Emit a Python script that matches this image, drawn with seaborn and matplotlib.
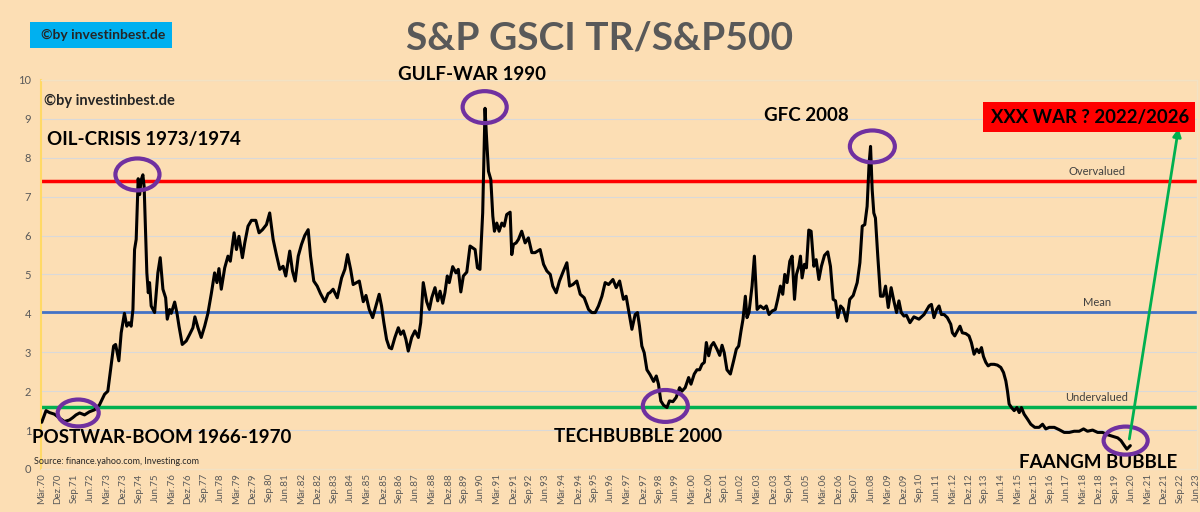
import seaborn as sns
import matplotlib.pyplot as plt
import pandas as pd
from matplotlib.patches import Ellipse, Rectangle

# months after Mär.70 and S&P GSCI TR / S&P500 ratio
months = [0, 2.4, 4.3, 7, 9.8, 12.6, 15.4, 17.2, 19, 21, 23.7, 26.4, 29.2, 32, 34.8, 36.6, 37.9,
          39.8, 40.9, 42.7, 44, 45.8, 47.1, 48.3, 49.5, 50.5, 51.4, 52.3, 53.4, 54.2, 55, 56,
          56.7, 57.5, 58.2, 59, 59.7, 60.6, 62.5, 64.3, 65.6, 67.1, 68.6, 69.5, 70.8, 71.7,
          73.6, 74.9, 76, 77.8, 80, 81.9, 83.7, 84.8, 86.5, 88.3, 90.2, 92, 93.9, 95.7, 97,
          98.1, 99.4, 101.3, 103.1, 104.4, 106.5, 107.8, 109.2, 111.1, 112.4, 114.2, 116.1,
          118.5, 120.3, 122.2, 124.4, 126.2, 128.1, 129.9, 131.8, 133.6, 135.1, 137.3, 138.8,
          140.3, 142, 143.8, 145.6, 147.5, 148.8, 150.6, 152.5, 154.3, 156.7, 158.6,
          159.5, 161.3, 163.6, 166, 167.8, 169.3, 171, 172.4, 174.3, 175.8, 178, 179.5, 181.3,
          183.2, 185, 186.8, 188.1, 189.4, 190.9, 192.4, 193.7, 195.5, 197.4, 198.7, 200.2,
          201.6, 202.9, 204.8, 206.6, 208.5, 209.8, 211.2, 213.1, 214.6, 215.9, 217.7, 219.2,
          220.5, 222, 223.2, 224.5, 225.6, 227.5, 229.3, 230.6, 232, 233.4, 235.3, 237.1,
          238.6, 239.9, 241.2, 242.6, 244.1, 245.4, 246.3, 247.3, 248.6, 249.7, 250.6, 251.9,
          253.2, 254.7, 256, 257.4, 259.3, 260.2, 261.1, 262.6, 263.9, 265.7, 267.6, 269.4,
          271.3, 273.1, 275.9, 277.8, 279.6, 281.5, 282.9, 284.8, 286.6, 288.8, 290.7, 292.2,
          294, 296.2, 298.1, 300.3, 302.7, 304.5, 306.4, 308.2, 310.1, 311.9, 313.8, 316.2,
          318, 319.9,
          322, 323.5, 324.8, 326.7, 328.5, 329.8, 330.9, 332.2, 333.5, 335, 336.8, 338.7,
          340.2, 341.4, 342.7, 344.2, 346.1, 347.5, 349.4, 351.2, 353.1, 354.4, 356.2, 358.1,
          359.4, 361.2, 362.7, 364.2, 365.5, 366.8, 367.9, 369.2, 370.5, 371.9, 373.8, 375.3,
          376.6, 377.8, 379.3, 381.2, 383, 384.5, 385.8, 387.1, 388.2, 389.5, 390.4, 391.5,
          393.2, 394.5, 396, 397.8, 399.7, 401.1, 402.6, 404.3, 406.1, 407.4, 408.9, 410.2,
          411.3, 412.6, 414.1, 415.4, 416.7, 417.8, 419.1, 420, 420.9, 422.2, 423.3, 424.6,
          425.9, 427.4, 428.7, 430.2, 431.6, 433.3, 435.1, 436.6, 438.1, 439.4, 440.7, 442.2,
          443.6, 445.5, 447.3, 449.2, 451.4, 452.9, 454.2, 455.6, 456.9, 458, 458.8, 459.7,
          460.6, 461.5, 462.8, 464.3, 465.8, 467.1, 468.6, 470.2, 471.7, 473.2, 474.5, 475.8,
          477.3, 478.7, 480.6,
          482.8, 485.6, 488.4, 491.2, 492.5, 493.9, 495.4, 496.7, 498, 499.5, 501.3, 503.2,
          504.1, 505.4, 506.9, 508.3, 509.6, 511.5, 513.3, 514.6, 516.1, 517.6, 518.9, 520.2,
          521.3, 522.6, 523.9, 525.3, 527.2, 529, 530.9, 532.4, 533.7, 534.6, 535.5, 536.8,
          538.3, 539.8, 541.1, 542.3, 543.8, 545.7, 547.5, 549.7, 552.1, 554, 555.8, 557.7,
          560.5, 563.2, 566, 568.8, 571.5, 574.3, 576.7, 578.9, 581.7, 584.5, 587.2, 590,
          592.8, 595.6, 597.4, 599.3, 600.7, 602.6]
ratio = [1.20, 1.50, 1.45, 1.41, 1.31, 1.22, 1.26, 1.32, 1.39, 1.44, 1.39, 1.47, 1.52, 1.65, 1.92, 2.0, 2.48,
         3.16, 3.2, 2.78, 3.5, 4.0, 3.67, 3.76, 3.67, 4.1, 5.64, 5.9, 7.46, 7.05, 7.42, 7.56,
         7.26, 6.07, 5.04, 4.53, 4.79, 4.19, 4.02, 5.04, 5.43, 4.62, 4.4, 3.85, 4.1, 4.0,
         4.29, 4.0, 3.67, 3.2, 3.29, 3.46, 3.63, 3.91, 3.63, 3.38, 3.67, 4.0, 4.51, 5.04, 4.79,
         5.15, 4.62, 5.17, 5.47, 5.34, 6.07, 5.64, 5.98, 5.43, 5.81, 6.24, 6.39,
         6.39, 6.07, 6.15, 6.28, 6.58, 5.9, 5.51, 5.13, 5.21, 4.96, 5.6, 5.09,
         4.83, 5.47, 5.77, 6.0, 6.15, 5.47, 4.83, 4.7, 4.51, 4.3, 4.51,
         4.53, 4.62, 4.4, 4.91, 5.13, 5.51, 5.13, 4.74, 4.79, 4.83, 4.3, 4.46, 4.1,
         3.89, 4.19, 4.49, 4.19, 3.76, 3.33, 3.12, 3.09, 3.38, 3.63, 3.46, 3.55,
         3.33, 3.03, 3.38, 3.55, 3.38, 3.76, 4.79, 4.3, 4.1, 4.4, 4.66, 4.32,
         4.57, 4.26, 4.53, 4.96, 4.79, 5.2, 5.04, 5.13, 4.55, 4.96, 5.06, 5.73,
         5.68, 5.64, 5.17, 5.13, 6.58, 9.27, 8.46, 7.65, 7.44, 6.5, 6.11, 6.32,
         6.11, 6.32, 6.24, 6.54, 6.6, 5.51, 5.77, 5.81, 5.9, 6.11, 5.81, 5.94,
         5.56, 5.56, 5.64, 5.26, 5.09, 5.0, 4.7, 4.53, 4.83, 5.09, 5.3, 4.7,
         4.74, 4.83, 4.49, 4.4, 4.1, 4.02, 4.02, 4.19, 4.44, 4.79, 4.74, 4.87,
         4.66, 4.83,
         4.36, 4.44, 4.1, 3.59, 3.97, 4.02, 3.67, 3.16, 2.99, 2.55, 2.42, 2.25,
         2.39, 2.18, 1.75, 1.64, 1.58, 1.75, 1.73, 1.84, 2.09, 2.0, 2.09, 2.35,
         2.18, 2.44, 2.55, 2.55, 2.69, 2.74, 3.25, 2.91, 3.16, 3.25, 3.08, 2.92,
         3.18, 2.99, 2.55, 2.44, 2.78, 3.08, 3.16, 3.55, 3.85, 4.44, 3.89, 4.02,
         4.7, 5.47, 4.1, 4.19, 4.12, 4.19, 3.97, 4.06, 4.1, 4.36, 4.7, 4.49,
         5.0, 4.79, 5.34, 5.47, 4.36, 5.0, 5.21, 5.47, 4.91, 5.26, 5.17, 6.14,
         6.11, 5.21, 5.38, 4.87, 5.21, 5.49, 5.58, 5.21, 4.36, 4.32, 3.89, 4.19,
         4.12, 3.8, 4.36, 4.46, 4.79, 5.3, 6.24, 6.28, 6.75, 7.86, 8.29, 7.18,
         6.58, 6.45, 5.47, 4.44, 4.44, 4.7, 4.15, 4.66, 4.32, 4.02, 4.32, 4.02,
         3.93, 3.95, 3.76,
         3.91, 3.85, 3.97, 4.19, 4.23, 3.89, 4.1, 4.19, 3.97, 3.97, 3.89, 3.72,
         3.5, 3.42, 3.55, 3.67, 3.5, 3.48, 3.42, 3.25, 2.95, 3.08, 2.99, 3.12,
         2.89, 2.74, 2.65, 2.69, 2.69, 2.67, 2.61, 2.48, 2.26, 2.0, 1.67, 1.58,
         1.5, 1.58, 1.45, 1.58, 1.41, 1.28, 1.15, 1.07, 1.07, 1.15, 1.03, 1.07,
         1.07, 1.01, 0.94, 0.94, 0.97, 0.97, 1.03, 0.97, 1.0, 0.94, 0.94, 0.88,
         0.84, 0.8, 0.73, 0.6, 0.51, 0.6]

overvalued = 7.4
mean = 4.04
undervalued = 1.6

month_names = ["Jan", "Feb", "Mär", "Apr", "Mai", "Jun", "Jul", "Aug", "Sep", "Okt", "Nov", "Dez"]
n_months = 640  # Mär.70 .. Jun.23

df = pd.DataFrame({"month": months, "ratio": ratio})

bg = "#FCDEB4"
sns.set_style("white", {"axes.facecolor": bg, "figure.facecolor": bg})
plt.rcParams["font.family"] = ["Lato", "DejaVu Sans"]

fig = plt.figure(figsize=(12, 5.12), dpi=100)
ax = fig.add_axes([0.034, 0.084, 0.9635, 0.76])

for v in range(1, 11):
    ax.axhline(v, color="#D9D9D9", lw=0.8, zorder=0)

ax.axhline(overvalued, color="#FF0000", lw=2.5, zorder=2)
ax.axhline(mean, color="#4472C4", lw=2, zorder=2)
ax.axhline(undervalued, color="#00B050", lw=2.5, zorder=2)

sns.lineplot(data=df, x="month", y="ratio", color="black", lw=2.2, ax=ax, zorder=3)

ax.set_xlim(-0.5, n_months - 0.5)
ax.set_ylim(0, 10)
ax.set_xlabel("")
ax.set_ylabel("")

ticks = list(range(0, n_months, 9))
labels = [f"{month_names[(2 + t) % 12]}.{(70 + (2 + t) // 12) % 100:02d}" for t in ticks]
ax.set_xticks(ticks)
ax.set_xticklabels(labels, rotation=90, fontsize=7, color="#595959")
ax.set_yticks(range(0, 11))
ax.set_yticklabels([str(v) for v in range(0, 11)], fontsize=8, color="#595959")
ax.tick_params(axis="both", length=0)
ax.tick_params(axis="y", pad=7)
ax.tick_params(axis="x", pad=3)

for side in ["top", "right", "bottom"]:
    ax.spines[side].set_color("#F2E2C4")
    ax.spines[side].set_linewidth(1)
ax.spines["left"].set_color("#FFD966")
ax.spines["left"].set_linewidth(1.5)

# labels on the valuation lines
ax.text(584, overvalued + 0.1, "Overvalued", ha="center", va="bottom", fontsize=8, color="#404040")
ax.text(584, mean + 0.1, "Mean", ha="center", va="bottom", fontsize=8, color="#404040")
ax.text(584, undervalued + 0.1, "Undervalued", ha="center", va="bottom", fontsize=8, color="#404040")

# event ellipses
purple = "#7030A0"
for cx, cy, w, h in [(20.2, 1.44, 22.7, 0.69), (53.0, 7.57, 24.4, 0.82), (245.2, 9.30, 24.4, 0.82),
                     (345.2, 1.62, 24.9, 0.82), (459.8, 8.29, 24.9, 0.82), (600, 0.73, 24.4, 0.72)]:
    ax.add_patch(Ellipse((cx, cy), w, h, fill=False, ec=purple, lw=3, zorder=4, clip_on=False))

bold = dict(fontweight="bold", color="black", fontsize=13.5)
ax.text(3, 8.47, "OIL-CRISIS 1973/1974", ha="left", va="center", **bold)
ax.text(238, 10.14, "GULF-WAR 1990", ha="center", va="center", clip_on=False, **bold)
ax.text(423, 9.08, "GFC 2008", ha="center", va="center", **bold)
ax.text(-5.5, 0.80, "POSTWAR-BOOM 1966-1970", ha="left", va="center", clip_on=False, **bold)
ax.text(330, 0.83, "TECHBUBBLE 2000", ha="center", va="center", **bold)
ax.text(585, 0.16, "FAANGM BUBBLE", ha="center", va="center", **bold)
ax.text(1.5, 9.47, "©by investinbest.de", ha="left", va="center", fontsize=10.5, fontweight="bold")
ax.text(-4, 0.19, "Source: finance.yahoo.com, Investing.com", ha="left", va="center",
        fontsize=6.5, color="#262626", clip_on=False)

# arrow to the red box
ax.annotate("", xy=(629.5, 8.83), xytext=(601.8, 0.7),
            arrowprops=dict(arrowstyle="-|>", color="#00B050", lw=2, mutation_scale=12), zorder=5)

# boxes and title in figure coordinates
fig.patches.append(Rectangle((0.8192, 0.7422), 0.1767, 0.0586, transform=fig.transFigure,
                             facecolor="#FF0000", edgecolor="none", zorder=5))
fig.text(0.9085, 0.7705, "XXX WAR ? 2022/2026", ha="center", va="center",
         fontsize=13.3, fontweight="bold", color="black", zorder=6)
fig.patches.append(Rectangle((0.025, 0.9063), 0.1183, 0.0508, transform=fig.transFigure,
                             facecolor="#00B0F0", edgecolor="none"))
fig.text(0.034, 0.9316, "©by investinbest.de", ha="left", va="center", fontsize=10, fontweight="bold")
fig.text(0.5, 0.926, "S&P GSCI TR/S&P500", ha="center", va="center", fontsize=28,
         fontweight="bold", color="#595959")

fig.savefig("out.png", dpi=100, facecolor=bg)
